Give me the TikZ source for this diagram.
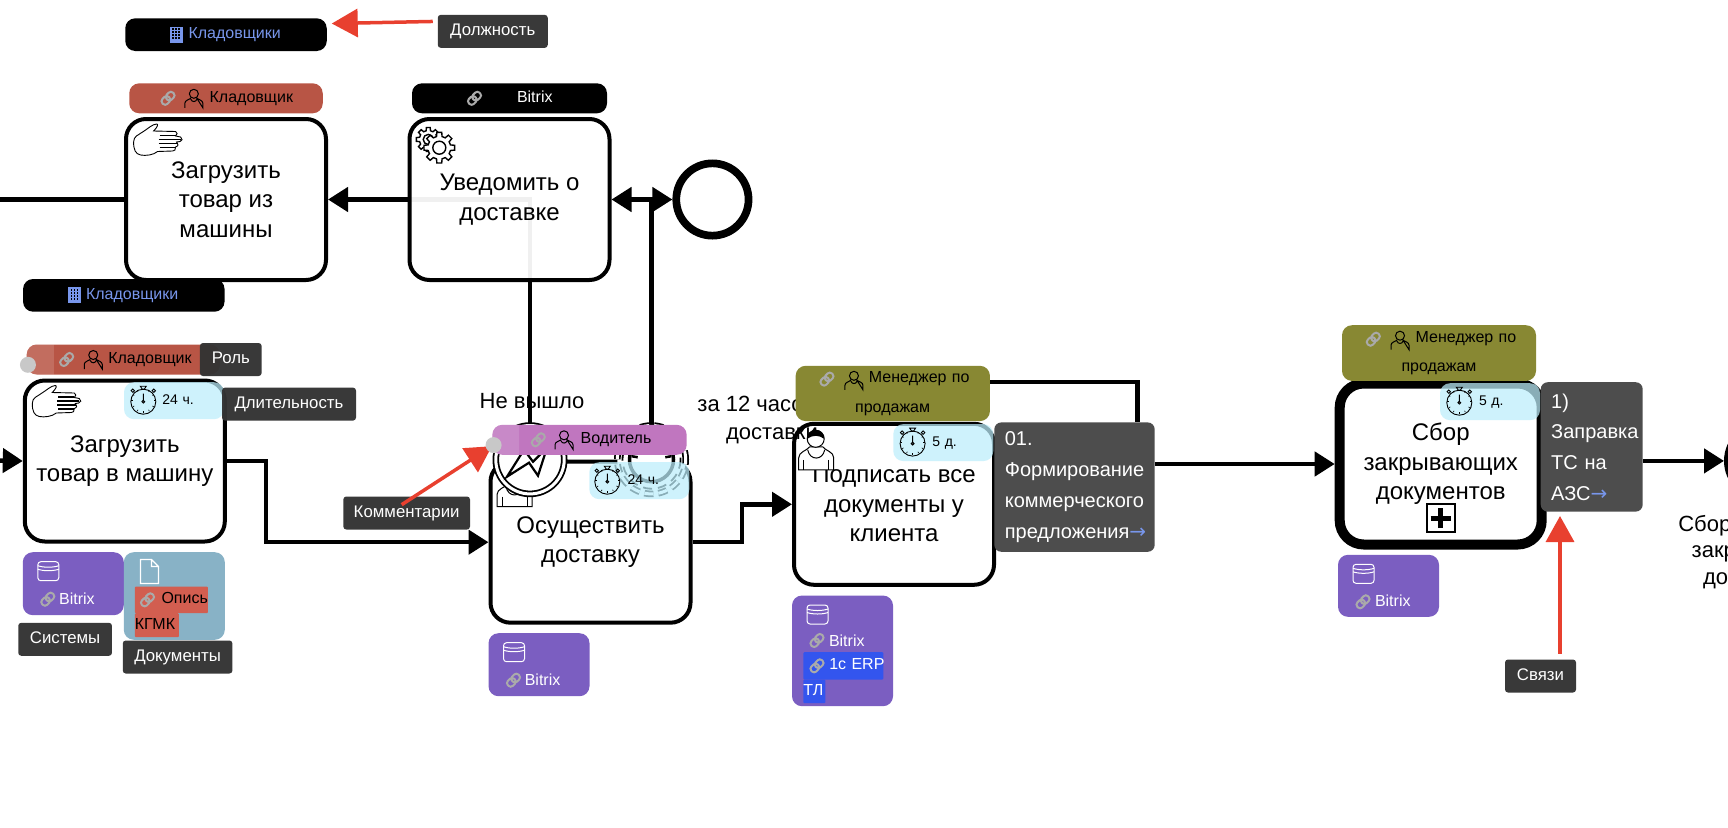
\documentclass[tikz,border=0pt]{standalone}
\usepackage{fontspec}
\setmainfont{Liberation Sans}
\newfontfamily\arrowfont{DejaVu Sans}
\usetikzlibrary{arrows.meta,calc,positioning}
\definecolor{roleRed}{RGB}{184,85,69}
\definecolor{rolePink}{RGB}{192,118,191}
\definecolor{roleOlive}{RGB}{136,136,51}
\definecolor{postBlue}{RGB}{120,150,235}
\definecolor{systemColor}{RGB}{123,94,193}
\definecolor{documentColor}{RGB}{136,178,198}
\definecolor{docRed}{RGB}{210,94,80}
\definecolor{erpBlue}{RGB}{51,85,238}
\definecolor{timeColor}{RGB}{188,238,251}
\definecolor{linkColor}{RGB}{77,77,77}
\definecolor{hintColor}{RGB}{51,51,51}
\definecolor{chainColor}{RGB}{170,170,170}
\definecolor{handleColor}{RGB}{200,200,200}
\definecolor{arrowRed}{RGB}{232,64,47}
\pgfdeclarelayer{background}
\pgfsetlayers{background,main}
\tikzset{task/.style={draw, fill=white, fill opacity=.94, text opacity=1, line width=4pt, rounded corners=20pt, align=center, minimum width=200pt, minimum height=161pt, inner sep=0pt, font=\fontsize{24}{29.5}\selectfont}}
\tikzset{badge/.style={rounded corners=10pt, minimum height=30pt, inner sep=0pt, outer sep=0pt, text width=#1, align=left, text height=12pt, text depth=4pt, font=\fontsize{16}{29.7}\selectfont}}
\tikzset{post/.style={badge=201.5pt, fill=black, text=postBlue, minimum height=32.7pt}}
\tikzset{duration/.style={badge=100pt, fill=timeColor, fill opacity=.73, text opacity=1, minimum height=37pt, font=\fontsize{14}{16}\selectfont}}
\tikzset{system/.style={rounded corners=10pt, fill=systemColor, minimum width=101pt, minimum height=#1, inner sep=0pt, outer sep=0pt}}
\tikzset{systext/.style={text=white, inner sep=0pt, outer sep=0pt, font=\fontsize{16}{20}\selectfont}}
\tikzset{hilite/.style={badge=#1, rounded corners=1pt}}
\tikzset{linkbox/.style={fill=linkColor, rounded corners=7pt, text=white, text width=#1, inner xsep=10.5pt, inner ysep=0pt, outer sep=0pt, align=left, minimum height=129.4pt, font=\fontsize{20}{30.7}\selectfont}}
\tikzset{hint/.style={fill=hintColor, fill opacity=.97, text opacity=1, text=white, rounded corners=3pt, minimum width=#1, minimum height=33pt, inner sep=0pt, outer sep=0pt, text height=12pt, text depth=4pt, font=\fontsize{16.8}{20}\selectfont}}
\tikzset{note/.style={inner sep=0pt, outer sep=0pt, align=center, font=\fontsize{22}{28}\selectfont}}
\tikzset{event/.style={circle, draw, fill=white, double, double distance=3pt, line width=1.8pt, minimum size=68.4pt, inner sep=0pt, outer sep=0pt}}
\tikzset{endevent/.style={circle, draw, fill=white, line width=7.7pt, minimum size=72.3pt, inner sep=0pt}}
\tikzset{handle/.style={circle, fill=handleColor, minimum size=16pt, inner sep=0pt, outer sep=0pt}}
\tikzset{flow/.style={line width=4.5pt, -{Triangle[length=20pt,width=24pt]}}}
\tikzset{plainflow/.style={line width=4.5pt}}
\tikzset{callout/.style={arrowRed, line width=3.5pt, -{Triangle[length=26pt,width=28pt]}}}
\tikzset{hoverband/.style={fill=white, fill opacity=.14}}
% Icons
\tikzset{linkIcon/.pic={\draw[chainColor, line width=2pt, rotate=45, rounded corners=3pt] (-7.5,-3.5) rectangle (1.5,3.5) (-1.5,-3.5) rectangle (7.5,3.5);}}
\tikzset{personIcon/.pic={\draw[line width=1pt] (0,-4.5) circle (4.5) (-9,9.5) -- (-9,5) .. controls (-9,2) and (-5,1.5) .. (-3,0) (3,0) .. controls (5,1.5) and (9,2) .. (9,5) -- (9,9.5) -- cycle (-3,1) .. controls (-2,4) and (2,4) .. (3,1);}}
\tikzset{clientIcon/.pic={
\draw[line width=1pt, fill=white] (0,40) -- (0,28) .. controls (0,22) and (8,21) .. (11,17) -- (24,17) .. controls (27,21) and (35,22) .. (35,28) -- (35,40) -- cycle;
\draw[line width=1pt, fill=white] (9,20) .. controls (11,31) and (24,31) .. (26,20);
\draw[line width=1pt] (5,30) -- (5,40) (30,30) -- (30,40);
\draw[line width=1pt, fill=white] (17,9) circle (8.5);
\fill (8.5,9) .. controls (8.5,-3) and (25.5,-3) .. (25.5,9) .. controls (20,5) and (14,5) .. (8.5,9) -- cycle;}}
\tikzset{handIcon/.pic={
\draw[line width=.9pt, fill=white] (0,18) .. controls (0,12) and (5,11) .. (9,8) .. controls (14,5) and (19,0) .. (23,0) .. controls (25,0) and (24,3) .. (20,7) -- (42,7.5) .. controls (44,8) and (44,11) .. (42,12) -- (47,13) .. controls (49,14.5) and (49,17) .. (46.5,17.5) -- (43,18) .. controls (45,20) and (45,22) .. (42,23) .. controls (42,26) and (41,27) .. (39,27) -- (24,27.5) .. controls (20,31) and (12,32) .. (7,31) .. controls (2,30) and (0,26) .. (0,18) -- cycle;
\draw[line width=1.5pt] (26,11.5) -- (42,11.5) (25,15.5) -- (47,15.5) (25,19.5) -- (44,19.5) (26,23.5) -- (42,23.5);}}
\tikzset{gearIcon/.pic={
\foreach \c/\r in {.78/-11, 1/0}{
\begin{scope}[shift={(\r,\r*.75)}, scale=\c]
\draw[line width=1.4pt, fill=white] (-14:11.5) \foreach \a in {0,45,...,315}{ -- (\a-14:11.5) -- (\a-9:15.5) -- (\a+9:15.5) -- (\a+14:11.5)} -- cycle;
\draw[line width=1.4pt, fill=white] (0,0) circle (6.5);
\end{scope}}}}
\tikzset{dbIcon/.pic={\draw[white, line width=1pt, rounded corners=3pt] (-10.5,-9.5) rectangle (10.5,9.5);
\draw[white, line width=1pt] (-10.5,-5.5) .. controls (-5,-3.5) and (5,-3.5) .. (10.5,-5.5) (-10.5,-2) .. controls (-5,0) and (5,0) .. (10.5,-2);}}
\tikzset{pageIcon/.pic={\draw[white, line width=1.2pt] (0,0) -- (11,0) -- (18,7) -- (18,24) -- (0,24) -- cycle (11,0) -- (11,7) -- (18,7);}}
\tikzset{buildingIcon/.pic={\fill[postBlue] (-6.5,-8) rectangle (6.5,8);
\foreach \x in {-3,0,3}{\foreach \y in {-5.5,-2.5,.5,3.5}{\fill[black] (\x-.8,\y-.8) rectangle (\x+.8,\y+.8);}}}}
\tikzset{watchIcon/.pic={\draw[line width=.9pt] (0,1) circle (12.5);
\draw[line width=.9pt] (-3,-14.5) -- (3,-14.5) -- (1,-11.5) -- (-1,-11.5) -- cycle (-10.5,-10) circle (1.7) (10.5,-10) circle (1.7) (0,1) -- (0,-7);
\draw[line width=.9pt] (0,1) circle (1.4);
\foreach \a in {30,60,...,360}{\draw[line width=.6pt] (\a:12) -- (\a:10.5);}}}
\tikzset{clockIcon/.pic={\draw[line width=3.5pt] (0,0) circle (22);
\draw[dash pattern=on 9pt off 6pt, line width=1.8pt] (0,0) circle (29);
\foreach \a in {190,225,260,285,320,350}{\draw[line width=2.5pt] (\a:14) -- (\a:20);}}}

\begin{document}
\begin{tikzpicture}[x=1pt,y=-1pt]
\useasboundingbox (0,0) rectangle (1728,827);
% Nodes
\node (LoadTruck) [task] at (226,199.5) {Загрузить\\товар из\\машины};
\node (Notify) [task, right=79.5pt of LoadTruck] {Уведомить о\\доставке};
\node (LoadCar) [task, below=96.5pt of LoadTruck, xshift=-101.2pt] {Загрузить\\товар в машину};
\node (Deliver) [task, right=261.7pt of LoadCar, yshift=-81.2pt] {Осуществить\\доставку};
\node (Sign) [task, right=99.5pt of Deliver, yshift=37.9pt] {Подписать все\\документы у\\клиента};
\node (Collect) [task, line width=10pt, minimum width=202pt, rounded corners=24pt, right=338.7pt of Sign, yshift=40.3pt] {Сбор\\закрывающих\\документов};

\node (EndTop) [endevent, right=60.9pt of Notify] {};
\node (LinkCollect) [linkbox=81pt, below right=3.7pt and -6pt of Collect.north east] {1)\\Заправка\\ТС на\\АЗС\textcolor{postBlue}{\arrowfont →}};
\node (EndRight) [endevent, right=81.3pt of LinkCollect.east, yshift=-14pt] {};
\node (EndCaptionA) [note, anchor=west] at (1678.3,526) {Сбор};
\node (EndCaptionB) [note, anchor=west] at (1691.7,553.7) {закрывающих};
\node (EndCaptionC) [note, anchor=west] at (1703,581) {документов};

\coordinate (EntryTruck) at (0,199.5);
\coordinate (EntryCar) at (0,460.5);

% Task icons
\pic at ([xshift=9.6pt,yshift=-7pt]LoadTruck.north west) {handIcon};
\pic at ([xshift=9.5pt,yshift=-7pt]LoadCar.north west) {handIcon};
\pic at ([xshift=31.8pt,yshift=-30.7pt]Notify.north west) {gearIcon};
\pic at ([xshift=8.5pt,yshift=-7pt]Deliver.north west) {clientIcon};

\node (NotOut) [note, at={([xshift=-58.5pt,yshift=58.5pt]Deliver.north)}] {Не вышло};
\node (ErrorEvent) [event, at={([xshift=41.5pt]Deliver.north west)}] {};
\node (TimerEvent) [event, dash pattern=on 9pt off 5pt, at={([xshift=163pt]Deliver.north west)}] {};
\pic at (TimerEvent.center) {clockIcon};
\draw[line width=2.2pt, line join=miter, fill=white] ([shift={(-23,17)}]ErrorEvent.center) -- ([shift={(-6,-10)}]ErrorEvent.center) -- ([shift={(3,2)}]ErrorEvent.center) -- ([shift={(17,-12)}]ErrorEvent.center) -- ([shift={(8,16)}]ErrorEvent.center) -- ([shift={(-1,3)}]ErrorEvent.center) -- cycle;

\node (SignNote) [note, at={([xshift=-122pt,yshift=83.8pt]Sign.center)}] {за 12 часов до\\доставки};
\pic at ([xshift=6.7pt,yshift=-8pt]Sign.north west) {clientIcon};

% Roles
\node (RoleTruck) [badge=193.5pt, fill=roleRed, above=3.7pt of LoadTruck] {\hspace*{80.4pt}Кладовщик};
\node (RoleNotify) [badge=195pt, fill=black, text=white, above=3.7pt of Notify] {\hspace*{105pt}Bitrix};
\node (RoleCar) [badge=193.3pt, fill=roleRed, above=4pt of LoadCar, xshift=-1.5pt] {\hspace*{81.6pt}Кладовщик};
\node (RoleDeliver) [badge=194.4pt, fill=rolePink, above=4.9pt of Deliver, xshift=-1pt] {\hspace*{88.4pt}Водитель};
\node (RoleSign) [badge=194.3pt, fill=roleOlive, text height=, text depth=, minimum height=55.3pt, above=.7pt of Sign, xshift=-1.2pt] {\hspace*{73.3pt}Менеджер~по\\\hspace*{59.5pt}продажам};
\node (RoleCollect) [badge=194pt, fill=roleOlive, text height=, text depth=, minimum height=55.7pt, above=-2.4pt of Collect, xshift=-1.7pt] {\hspace*{73.7pt}Менеджер~по\\\hspace*{59.5pt}продажам};
\fill[hoverband] ([xshift=27.3pt]RoleCar.south west) -- ([xshift=27.3pt]RoleCar.north west) [rounded corners=10pt] -- (RoleCar.north west) -- (RoleCar.south west) [sharp corners] -- cycle;
\fill[hoverband] ([xshift=26.7pt]RoleDeliver.south west) -- ([xshift=26.7pt]RoleDeliver.north west) [rounded corners=10pt] -- (RoleDeliver.north west) -- (RoleDeliver.south west) [sharp corners] -- cycle;
\pic at ([xshift=38.8pt]RoleTruck.west) {linkIcon};
\pic at ([xshift=64.6pt]RoleTruck.west) {personIcon};
\pic at ([xshift=62.5pt]RoleNotify.west) {linkIcon};
\pic at ([xshift=40pt]RoleCar.west) {linkIcon};
\pic at ([xshift=66.6pt]RoleCar.west) {personIcon};
\pic at ([xshift=46pt]RoleDeliver.west) {linkIcon};
\pic at ([xshift=71.7pt]RoleDeliver.west) {personIcon};
\pic at ([xshift=31.3pt,yshift=-13.3pt]RoleSign.north west) {linkIcon};
\pic at ([xshift=58.3pt,yshift=-14.5pt]RoleSign.north west) {personIcon};
\pic at ([xshift=31.3pt,yshift=-14pt]RoleCollect.north west) {linkIcon};
\pic at ([xshift=58pt,yshift=-15pt]RoleCollect.north west) {personIcon};

% Posts
\node (PostTop) [post, above=32.3pt of RoleTruck] {\hspace*{63.3pt}Кладовщики};
\node (PostTruck) [post, below=-3pt of LoadTruck, xshift=-102.2pt] {\hspace*{63pt}Кладовщики};
\pic at ([xshift=51pt]PostTop.west) {buildingIcon};
\pic at ([xshift=51.3pt]PostTruck.west) {buildingIcon};

% Durations
\node (TimeCar) [duration, below left=3.7pt and 2.8pt of LoadCar.north east] {\hspace*{38.3pt}24 ч.};
\node (TimeDeliver) [duration, below left=2.5pt and 3.2pt of Deliver.north east] {\hspace*{38.3pt}24 ч.};
\node (TimeSign) [duration, below left=2.3pt and 2.7pt of Sign.north east] {\hspace*{39pt}5 д.};
\node (TimeCollect) [duration, below left=4.7pt and 6.7pt of Collect.north east] {\hspace*{39pt}5 д.};
\pic at ([xshift=19.3pt]TimeCar.west) {watchIcon};
\pic at ([xshift=18pt]TimeDeliver.west) {watchIcon};
\pic at ([xshift=19.3pt]TimeSign.west) {watchIcon};
\pic at ([xshift=19.3pt]TimeCollect.west) {watchIcon};

% Systems and documents
\node (SysCar) [system=63pt, below right=8.7pt and 0pt of LoadCar.south west] {};
\node (DocCar) [system=87.6pt, fill=documentColor, below right=0pt and 0pt of SysCar.north east] {};
\node (SysDeliver) [system=63pt, below right=8.5pt and 0pt of Deliver.south west] {};
\node (SysSign) [system=110.7pt, below right=8.7pt and 0pt of Sign.south west] {};
\node (SysCollect) [system=62pt, below right=5.3pt and 3.3pt of Collect.south west] {};
\foreach \s in {SysCar,SysDeliver,SysCollect}{
\pic at ([xshift=25.5pt,yshift=-19pt]\s.north west) {dbIcon};
\pic at ([xshift=25pt,yshift=-47pt]\s.north west) {linkIcon};}
\pic at ([xshift=25.5pt,yshift=-19pt]SysSign.north west) {dbIcon};
\pic at ([xshift=25pt,yshift=-45pt]SysSign.north west) {linkIcon};
\node (BitrixCar) [systext, right=36.3pt of SysCar.north west, yshift=-47pt] {Bitrix};
\node (BitrixDeliver) [systext, right=36.3pt of SysDeliver.north west, yshift=-47pt] {Bitrix};
\node (BitrixSign) [systext, right=37pt of SysSign.north west, yshift=-45pt] {Bitrix};
\node (BitrixCollect) [systext, right=37pt of SysCollect.north west, yshift=-46pt] {Bitrix};
\node (ErpTop) [hilite=80pt, fill=erpBlue, text=white, minimum height=27.3pt, below right=56.7pt and 11.3pt of SysSign.north west] {\hspace*{26pt}1с~ERP};
\node (ErpBottom) [hilite=22pt, fill=erpBlue, text=white, minimum height=23.7pt, below right=0pt and 0pt of ErpTop.south west] {ТЛ};
\pic at ([xshift=13.7pt]ErpTop.west) {linkIcon};
\pic at ([xshift=16.7pt,yshift=-7.3pt]DocCar.north west) {pageIcon};
\node (OpisTop) [hilite=73pt, fill=docRed, minimum height=26.7pt, below right=34.3pt and 11pt of DocCar.north west] {\hspace*{26.7pt}Опись};
\node (OpisBottom) [hilite=44pt, fill=docRed, minimum height=24pt, below right=0pt and 0pt of OpisTop.south west] {КГМК};
\pic at ([xshift=12.7pt]OpisTop.west) {linkIcon};

% Link boxes
\node (LinkSign) [linkbox=139.4pt, below right=.6pt and -1.7pt of Sign.north east] {01.\\Формирование\\коммерческого\\предложения\textcolor{postBlue}{\arrowfont →}};
\node (PlusMark) [draw, fill=white, line width=2pt, minimum size=28pt, inner sep=0pt, above=16.3pt of Collect.south] {};
\draw[line width=5pt] ([xshift=-10pt]PlusMark.center) -- ([xshift=10pt]PlusMark.center) ([yshift=-10pt]PlusMark.center) -- ([yshift=10pt]PlusMark.center);

% Hints
\node (HintPost) [hint=110pt, right=111pt of PostTop, yshift=3.3pt] {Должность};
\node (HintRole) [hint=61.7pt, right=-20pt of RoleCar] {Роль};
\node (HintTime) [hint=134pt, right=-2pt of TimeCar, yshift=-3.4pt] {Длительность};
\node (HintSystem) [hint=93.7pt, below=7.6pt of SysCar, xshift=-8.2pt] {Системы};
\node (HintDoc) [hint=109.7pt, below=.7pt of DocCar, xshift=3.3pt] {Документы};
\node (HintComment) [hint=126.7pt, below right=35.5pt and 116.5pt of LoadCar.east] {Комментарии};
\node (HintLink) [hint=71pt, below right=42.7pt and 66pt of SysCollect.south east] {Связи};

% Connectors
\begin{pgfonlayer}{background}
\draw[plainflow] (LoadTruck.west) -- (EntryTruck);
\draw[flow] (EntryCar) -- (LoadCar.west);
\draw[flow] (ErrorEvent.north) |- (LoadTruck.east);
\draw[flow] (TimerEvent.north) |- (Notify.east);
\draw[flow] (TimerEvent.north) |- (EndTop.west);
\draw[flow] (LoadCar.east) -- ++(39,0) |- (Deliver.west);
\draw[flow] (Deliver.east) -- ++(49.5,0) |- (Sign.west);
\draw[plainflow] ([yshift=11.5pt]RoleSign.east) -| ([xshift=62.8pt]LinkSign.north);
\draw[flow] (LinkSign.east |- Collect.west) -- (Collect.west);
\draw[flow] (LinkCollect.east |- EndRight.west) -- (EndRight.west);
\end{pgfonlayer}

\draw[callout, shorten <=5pt, shorten >=5pt] ([yshift=10pt]HintPost.west) -- ([yshift=11pt]PostTop.east);
\draw[callout, shorten <=5.7pt, shorten >=4.4pt] ([xshift=19.5pt]HintLink.north) -- ([xshift=19.5pt]HintLink.north |- LinkCollect.south);
\node (HandleCar) [handle, at={([xshift=1.3pt,yshift=-5.3pt]RoleCar.west)}] {};
\draw[callout, shorten >=2pt] ([xshift=-5pt,yshift=8.3pt]HintComment.center) -- ([xshift=1.3pt,yshift=-5.3pt]RoleDeliver.west);
\node (HandleDeliver) [handle, at={([xshift=1.3pt,yshift=-5.3pt]RoleDeliver.west)}] {};
\end{tikzpicture}
\end{document}
